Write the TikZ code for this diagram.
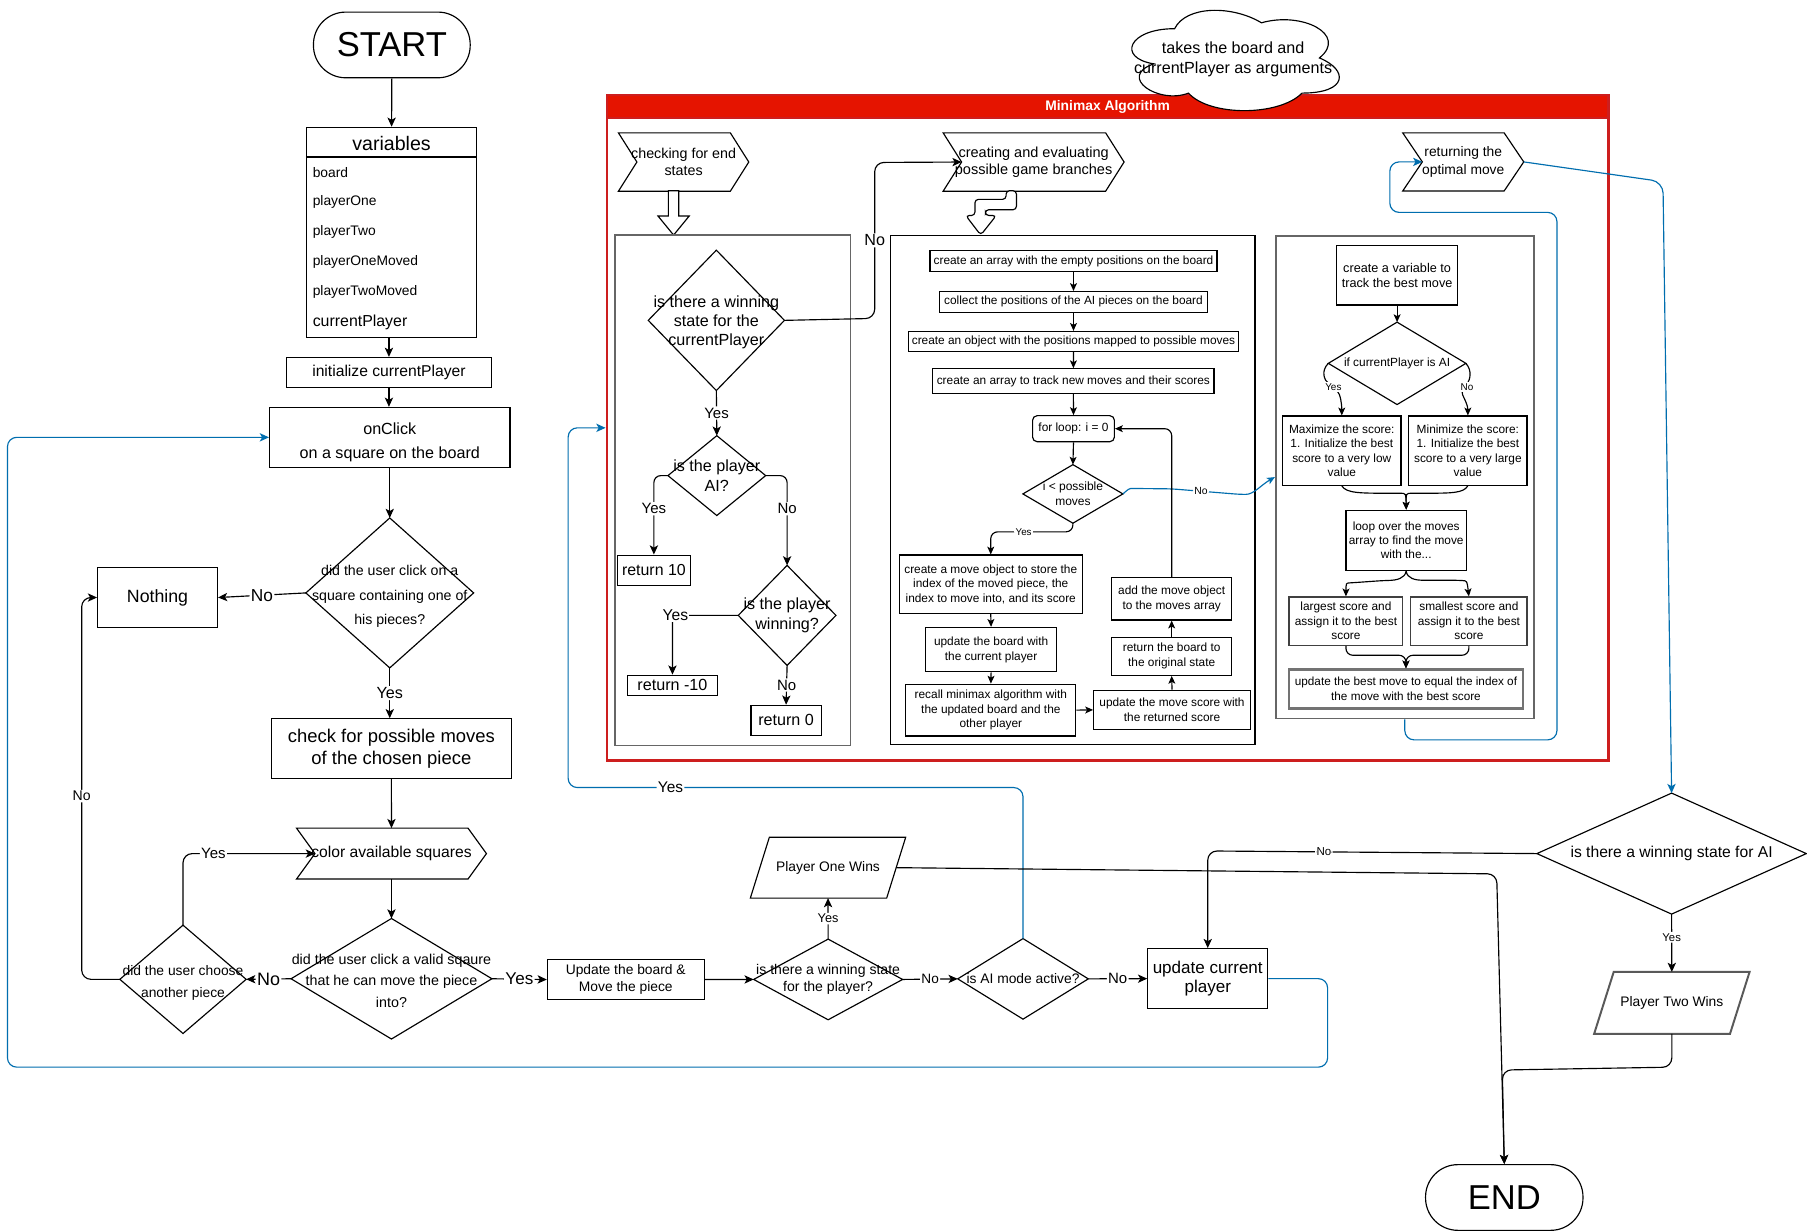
\documentclass[tikz,border=0pt]{standalone}
\usepackage{fontspec}
\setmainfont{Liberation Sans}
\usetikzlibrary{arrows.meta}
\definecolor{bl}{RGB}{0,110,175}
\definecolor{rdf}{RGB}{229,20,0}
\definecolor{rds}{RGB}{205,30,30}
\newcommand\fnt[2]{\fontsize{#1pt}{#2pt}\selectfont}
\tikzset{
 shp/.style={draw=black,line width=0.5pt},
 dtx/.style={rectangle,inner sep=0pt,align=center},
 box/.style={draw=black,line width=0.5pt,rectangle,inner sep=0pt,align=center},
 sz/.style 2 args={minimum width=#1*0.5pt,minimum height=#2*0.5pt},
 conn/.style={draw=black,line width=0.5pt,rounded corners=2.5pt,-{Stealth[length=4pt,width=3.6pt,inset=1pt]}},
 sconn/.style={conn,-{Stealth[length=3.4pt,width=3pt,inset=0.8pt]}},
 bconn/.style={conn,draw=bl},
 bsconn/.style={sconn,draw=bl},
 lab/.style={fill=white,inner sep=0.6pt},
}
\newcommand\mkdia[6]{\node[dtx,minimum width=#3*0.5pt,minimum height=#4*0.5pt,font=#5] (#1) at (#2) {#6};
 \draw[shp] (#1.north) -- (#1.east) -- (#1.south) -- (#1.west) -- cycle;}
% diamond whose text sits slightly lower than its centre
\newcommand\mkdiat[7]{\node[dtx,minimum width=#3*0.5pt,minimum height=#4*0.5pt] (#1) at (#2) {};
 \draw[shp] (#1.north) -- (#1.east) -- (#1.south) -- (#1.west) -- cycle;
 \node[dtx,font=#5] (#1-t) at ([yshift=-#7]#1.center) {#6};}
\newcommand\mkstep[7]{\node[dtx,minimum width=#3*0.5pt,minimum height=#4*0.5pt,font=#6] (#1) at (#2) {#7};
 \draw[shp] (#1.north west) -- ([xshift=-#5]#1.north east) -- (#1.east) -- ([xshift=-#5]#1.south east) -- (#1.south west) -- ([xshift=#5]#1.west) -- cycle;}
\newcommand\mkpar[8]{\node[dtx,minimum width=#3*0.5pt,minimum height=#4*0.5pt,font=#6] (#1) at (#2) {#7};
 \draw[shp,#8] ([xshift=#5]#1.north west) -- (#1.north east) -- ([xshift=-#5]#1.south east) -- (#1.south west) -- cycle;}
\begin{document}
\begin{tikzpicture}[x=0.5pt,y=-0.5pt]
\fill[white] (0,0) rectangle (1568,1068);
\useasboundingbox (0,0) rectangle (1568,1068);

% ---------- Minimax container ----------
\node[draw=rds,line width=1pt,sz={869.3}{577.5}] (mm) at (961.1,371.25) {};
\node[fill=rdf,draw=rds,line width=1pt,sz={869.3}{20.2},text=white,font=\fnt{6}{7}\bfseries,inner sep=0pt] (mmh) at (961.1,92.6) {Minimax Algorithm};

% cloud (draw.io cloud outline)
\draw[shp,fill=white] (1019.25,24.9) .. controls (979.05,24.9) and (969,50.3) .. (1001.2,55.4)
  .. controls (969,66.6) and (1005.2,90.9) .. (1031.3,80.8)
  .. controls (1049.4,101.1) and (1109.7,101.1) .. (1129.8,80.8)
  .. controls (1170,80.8) and (1170,60.5) .. (1144.9,50.3)
  .. controls (1170,30) and (1129.8,9.7) .. (1094.6,19.8)
  .. controls (1069.5,4.6) and (1029.3,4.6) .. (1019.25,24.9) -- cycle;
\node[font=\fnt{7}{8.65},align=center,inner sep=0pt] (cloudt) at (1070,51.5) {takes the board and\\currentPlayer as arguments};

% ---------- left column ----------
\node[box,rounded corners=14pt,sz={136}{57},font=\fnt{15}{18}] (start) at (340,39) {START};
\node[box,sz={147.6}{182}] (vars) at (339.8,201.5) {};
\draw[shp] ([yshift=-13.15pt]vars.north west) -- ([yshift=-13.15pt]vars.north east);
\node[font=\fnt{8.5}{10},inner sep=0pt] (varsh) at (339.8,124.4) {variables};
\node[anchor=west,inner sep=0pt,font=\fnt{6}{7}] (v1) at (271,149.6) {board};
\node[anchor=west,inner sep=0pt,font=\fnt{6}{7}] (v2) at (271,175.6) {playerOne};
\node[anchor=west,inner sep=0pt,font=\fnt{6}{7}] (v3) at (271,201.6) {playerTwo};
\node[anchor=west,inner sep=0pt,font=\fnt{6}{7}] (v4) at (271,227.7) {playerOneMoved};
\node[anchor=west,inner sep=0pt,font=\fnt{6}{7}] (v5) at (271,253.7) {playerTwoMoved};
\node[anchor=west,inner sep=0pt,font=\fnt{6.9}{8}] (v6) at (271,279.8) {currentPlayer};

\node[box,sz={178}{26},font=\fnt{6.8}{8}] (init) at (337.5,323.2) {initialize currentPlayer};
\node[box,sz={208.6}{52}] (onclick) at (338.2,379.5) {};
\node[dtx,font=\fnt{7}{10.4}] (onclickt) at ([yshift=-2pt]onclick.center) {onClick\\on a square on the board};
\mkdiat{d1}{338.2,514.5}{144.8}{129.3}{\fnt{6.15}{10.5}}{did the user click on a\\square containing one of\\his pieces?}{1.5pt}
\node[box,sz={104}{51.6},font=\fnt{7.7}{9}] (nothing) at (136.7,518.5) {Nothing};
\node[box,sz={208.3}{51.5},font=\fnt{8}{9.5}] (check) at (339.6,649.5) {check for possible moves\\of the chosen piece};
\mkstep{color}{339.7,740.7}{164}{43.4}{8pt}{\fnt{6.8}{8}}{color available squares}
\mkdiat{d2}{339.7,849.3}{173.5}{103.8}{\fnt{6.2}{9.3}}{did the user click a valid sqaure\\that he can move the piece\\into?}{0.8pt}
\mkdiat{d3}{158.8,849.8}{108.8}{93.2}{\fnt{6}{9.7}}{did the user choose\\another piece}{1.5pt}
\node[box,sz={136}{34.5},font=\fnt{6}{7.25}] (upd) at (543,850) {Update the board \&\\Move the piece};
\mkdia{d4}{718.6,849.9}{128.4}{69.2}{\fnt{6.1}{7.7}}{is there a winning state\\for the player?}
\mkpar{p1}{718.5,752.9}{134}{52}{8.25pt}{\fnt{6}{7}}{Player One Wins}{draw=black}
\mkdia{d5}{887.7,849.4}{112.5}{69.1}{\fnt{6}{7}}{is AI mode active?}
\node[box,sz={104.1}{52},font=\fnt{7.4}{8.5}] (updcur) at (1048,849.2) {update current\\player};
\mkdia{bigd}{1450.5,740.7}{233}{104.2}{\fnt{6.8}{8}}{is there a winning state for AI}
\mkpar{p2}{1450.7,870.3}{134.1}{53}{8.5pt}{\fnt{6}{7}}{Player Two Wins}{draw=black!65,line width=0.85pt}
\node[box,rounded corners=14pt,sz={136.6}{57},font=\fnt{15}{18}] (end) at (1305.3,1039.1) {END};

% ---------- Minimax headers ----------
\mkstep{chk}{593.2,140.6}{112.3}{49.8}{8pt}{\fnt{6.2}{7.5}}{checking for end\\states}
\mkstep{cre}{896.9,140.6}{156.2}{49.8}{8pt}{\fnt{6.3}{7.5}}{creating and evaluating\\possible game branches}
\mkstep{ret}{1269.7,140.5}{104.2}{49.6}{8.5pt}{\fnt{6}{7.5}}{returning the\\optimal move}

% block arrows
\draw[shp,fill=white,line join=miter] (580,165.5) -- (580,187.5) -- (571,187.5) -- (584.5,204) -- (598,187.5) -- (589,187.5) -- (589,165.5) -- cycle;
\draw[shp,fill=white,rounded corners=1.5pt] (873,165.5) -- (873,173) -- (846,173) -- (846,187) -- (838,187) -- (851,204) -- (864.5,187) -- (855,187) -- (855,182) -- (882,182) -- (882,165.5) -- cycle;

% panels
\node[box,draw=black!60,line width=0.75pt,sz={204.4}{443}] (box1) at (635.8,425.5) {};
\node[box,sz={316.3}{442}] (box2) at (930.9,425) {};
\node[box,draw=black!60,line width=0.75pt,sz={224}{419}] (box3) at (1219,414) {};

% ---------- panel 1 ----------
\mkdiat{dA}{621.6,278}{117.4}{121}{\fnt{7}{8.2}}{is there a winning\\state for the\\currentPlayer}{1pt}
\mkdia{dB}{622,412.7}{84}{68.5}{\fnt{7}{8.5}}{is the player\\AI?}
\node[box,sz={63.2}{26.4},font=\fnt{6.9}{8}] (r10) at (567.4,494.9) {return 10};
\mkdia{dC}{683,534}{84}{86}{\fnt{7}{8.5}}{is the player\\winning?}
\node[box,sz={77.8}{17.4},font=\fnt{7}{8}] (rm10) at (583.5,594.6) {return -10};
\node[box,sz={61}{26},font=\fnt{7}{8}] (r0) at (682.1,625) {return 0};

% ---------- panel 2 ----------
\node[box,sz={249}{18},font=\fnt{5.15}{6.2}] (b2a) at (931.5,226.5) {create an array with the empty positions on the board};
\node[box,sz={233}{18},font=\fnt{5.15}{6.2}] (b2b) at (931.5,262) {collect the positions of the AI pieces on the board};
\node[box,sz={287}{17.4},font=\fnt{5.15}{6.2}] (b2c) at (931.5,296.3) {create an object with the positions mapped to possible moves};
\node[box,sz={244}{21.4},font=\fnt{5.15}{6.2}] (b2d) at (931.4,330.7) {create an array to track new moves and their scores};
\node[box,rounded corners=2pt,sz={71}{22.6},font=\fnt{5.15}{6.2}] (loop) at (931.5,372) {for loop: i = 0};
\mkdia{cond}{931,428.6}{86}{50}{\fnt{5.2}{6.5}}{i < possible\\moves}
\node[box,sz={158.5}{50.7},font=\fnt{5.15}{6.25}] (mvobj) at (859.7,507) {create a move object to store the\\index of the moved piece, the\\index to move into, and its score};
\node[box,sz={114}{38.5},font=\fnt{5.15}{6.5}] (updb) at (860,563.7) {update the board with\\the current player};
\node[box,sz={147.6}{45},font=\fnt{5.15}{6.2}] (recall) at (859.8,616.2) {recall minimax algorithm with\\the updated board and the\\other player};
\node[box,sz={136}{34},font=\fnt{5.15}{6.5}] (updsc) at (1017,616) {update the move score with\\the returned score};
\node[box,sz={104}{33},font=\fnt{5.15}{6.5}] (retb) at (1016.7,569.5) {return the board to\\the original state};
\node[box,sz={104}{37},font=\fnt{5.15}{6.5}] (addmv) at (1016.7,519.5) {add the move object\\to the moves array};

% ---------- panel 3 ----------
\node[box,sz={104.5}{52},font=\fnt{5.5}{6.5}] (bv) at (1212.3,238.7) {create a variable to\\track the best move};
\mkdia{ifd}{1212.3,315.3}{118.6}{70.7}{\fnt{5.15}{6}}{if currentPlayer is AI}
\node[box,sz={102.7}{60},font=\fnt{5.15}{6.3}] (maxb) at (1164.3,391) {Maximize the score:\\1. Initialize the best\\score to a very low\\value};
\node[box,sz={102.6}{60},font=\fnt{5.15}{6.3}] (minb) at (1273.7,391) {Minimize the score:\\1. Initialize the best\\score to a very large\\value};
\node[box,sz={104.4}{52.3},font=\fnt{5.15}{6.2}] (loopb) at (1220.2,468.9) {loop over the moves\\array to find the move\\with the...};
\node[box,draw=black!75,sz={98.8}{42},font=\fnt{5.15}{6.3}] (lgb) at (1167.9,539) {largest score and\\assign it to the best\\score};
\node[box,draw=black!75,sz={100.8}{42},font=\fnt{5.15}{6.3}] (smb) at (1274.6,539) {smallest score and\\assign it to the best\\score};
\node[box,draw=black!55,line width=1pt,sz={203}{33.8},font=\fnt{5.1}{6.5}] (bestb) at (1220,597.9) {update the best move to equal the index of\\the move with the best score};

% ---------- main connectors ----------
\draw[conn] (start.south) -- (vars.north);
\draw[conn] (init.north |- vars.south) -- (init.north);
\draw[conn] (init.south) -- (init.south |- onclick.north);
\draw[conn] (onclick.south) -- (d1.north);
\draw[conn] (d1.west) -- node[lab,font=\fnt{7.5}{8}] {No} (nothing.east);
\draw[conn] (d1.south) -- node[lab,font=\fnt{7}{8}] {Yes} (d1.south |- check.north);
\draw[conn] (check.south) -- (color.north);
\draw[conn] (color.south) -- (d2.north);
\draw[conn] (d2.west) -- node[lab,font=\fnt{7.8}{8}] {No} (d3.east);
\draw[conn,rounded corners=4pt] (d3.north) -- (158.8,740.7) -- node[lab,font=\fnt{6.5}{7},pos=0.23] {Yes} ([xshift=8pt]color.west);
\draw[conn,rounded corners=4pt] (d3.west) -- (70.9,849.8) -- node[lab,font=\fnt{6.1}{7},pos=0.48] {No} (70.9,518.5) -- (nothing.west);
\draw[conn] (d2.east) -- node[lab,font=\fnt{7.4}{8}] {Yes} (upd.west);
\draw[conn] (upd.east) -- (d4.west);
\draw[conn] (d4.north) -- node[lab,font=\fnt{5.5}{6}] {Yes} (p1.south);
\draw[conn] (d4.east) -- node[lab,font=\fnt{5.9}{6.5}] {No} (d5.west);
\draw[conn] (d5.east) -- node[lab,font=\fnt{6.5}{7}] {No} (updcur.west);
\draw[bconn,rounded corners=4pt] (d5.north) -- (887.7,683.4) -- node[lab,font=\fnt{6.7}{7},pos=0.775] {Yes} (493,683.4) -- (493,371.25) -- (mm.west);
\draw[bconn,rounded corners=4pt] (updcur.east) -- (1152,849.2) -- (1152,926) -- (6.5,926) -- (6.5,379.5) -- (onclick.west);
\draw[conn,rounded corners=4pt] ([xshift=-4.125pt]p1.east) -- (1298.7,758.3) -- (end.north);
\draw[conn,rounded corners=4pt] (p2.south) -- (1450.7,926) -- (1303.6,928.5) -- (end.north);
\draw[conn] (bigd.south) -- node[lab,font=\fnt{4.9}{5.5},pos=0.4] {Yes} (p2.north);
\draw[conn,rounded corners=4pt] (bigd.west) -- node[lab,font=\fnt{5}{6},pos=0.647] {No} (1048,738.4) -- (updcur.north);
\draw[bconn,rounded corners=5pt] (ret.east) -- (1443,157.7) -- (bigd.north);
\draw[bconn,rounded corners=4pt] (box3.south) -- (1219,642) -- (1351,642) -- (1351,184.3) -- (1206,184.3) -- (1206,140.5) -- ([xshift=8.5pt]ret.west);

% ---------- panel 1 connectors ----------
\draw[conn] (dA.south) -- node[lab,font=\fnt{6.5}{7}] {Yes} (dB.north);
\draw[conn,rounded corners=4pt] (dA.east) -- (759,276.3) -- node[lab,font=\fnt{7}{8}] {No} (759,141) -- ([xshift=8pt]cre.west);
\draw[conn,rounded corners=3pt] (dB.west) -- (567.4,412.7) -- node[lab,font=\fnt{6.5}{7},pos=0.42] {Yes} (r10.north);
\draw[conn,rounded corners=3pt] (dB.east) -- (683,412.7) -- node[lab,font=\fnt{6.5}{7},pos=0.37] {No} (dC.north);
\draw[conn] (dC.west) -- (583.5,534) -- (rm10.north);
\node[lab,font=\fnt{6.8}{7}] (yC) at (586,534) {Yes};
\draw[conn] (dC.south) -- node[lab,font=\fnt{6.5}{7}] {No} (r0.north);

% ---------- panel 2 connectors ----------
\draw[sconn] (b2a.south) -- (b2b.north);
\draw[sconn] (b2b.south) -- (b2c.north);
\draw[sconn] (b2c.south) -- (b2d.north);
\draw[sconn] (b2d.south) -- (loop.north);
\draw[sconn] (loop.south) -- (cond.north);
\draw[sconn,rounded corners=3pt] (cond.south) -- (931,461.5) -- node[lab,font=\fnt{4.25}{5},pos=0.6] {Yes} (859.7,461.5) -- (mvobj.north);
\draw[bsconn] (cond.east) .. controls (979,424.5) and (980,423.9) .. (986,423.9) -- (1016.5,424.2) -- node[lab,font=\fnt{4.5}{5},pos=0.43] {No} (1076,429) .. controls (1088,429) and (1094,421) .. (box3.west);
\draw[sconn] (mvobj.south) -- (updb.north);
\draw[sconn] (updb.south) -- (recall.north);
\draw[sconn] (recall.east) -- (updsc.west);
\draw[sconn] (updsc.north) -- (retb.south);
\draw[sconn] (retb.north) -- (addmv.south);
\draw[sconn,rounded corners=3pt] (addmv.north) -- (1016.7,372) -- (loop.east);

% ---------- panel 3 connectors ----------
\draw[sconn] (bv.south) -- (ifd.north);
\draw[sconn] (ifd.west) .. controls (1146,322) and (1149,330) .. (1157,336) .. controls (1163,342) and (1164.3,350) .. (maxb.north);
\node[lab,font=\fnt{4.3}{5}] (yes3) at (1157,336) {Yes};
\draw[sconn] (ifd.east) .. controls (1278,322) and (1275,330) .. (1271,336) .. controls (1268,342) and (1273.7,350) .. (minb.north);
\node[lab,font=\fnt{4.3}{5}] (no3) at (1273,336) {No};
\draw[sconn] (maxb.south) .. controls (1168,428) and (1180,428) .. (1210,428) .. controls (1220,428) .. (loopb.north);
\draw[sconn] (minb.south) .. controls (1270,428) and (1260,428) .. (1230,428) .. controls (1220,428) .. (loopb.north);
\draw[sconn] (loopb.south) .. controls (1219,502) and (1212,503.5) .. (1200,503.8) -- (1176,505.5) .. controls (1168,506) .. (lgb.north);
\draw[sconn] (loopb.south) .. controls (1221,502) and (1228,503.5) .. (1240,503.5) -- (1264,503.5) .. controls (1273,504) .. (smb.north);
\draw[sconn,rounded corners=3pt] (lgb.south) -- (1167.9,568.6) -- (1220,568.6) -- (bestb.north);
\draw[sconn,rounded corners=3pt] (smb.south) -- (1274.6,568.6) -- (1220,568.6) -- (bestb.north);
\end{tikzpicture}
\end{document}
